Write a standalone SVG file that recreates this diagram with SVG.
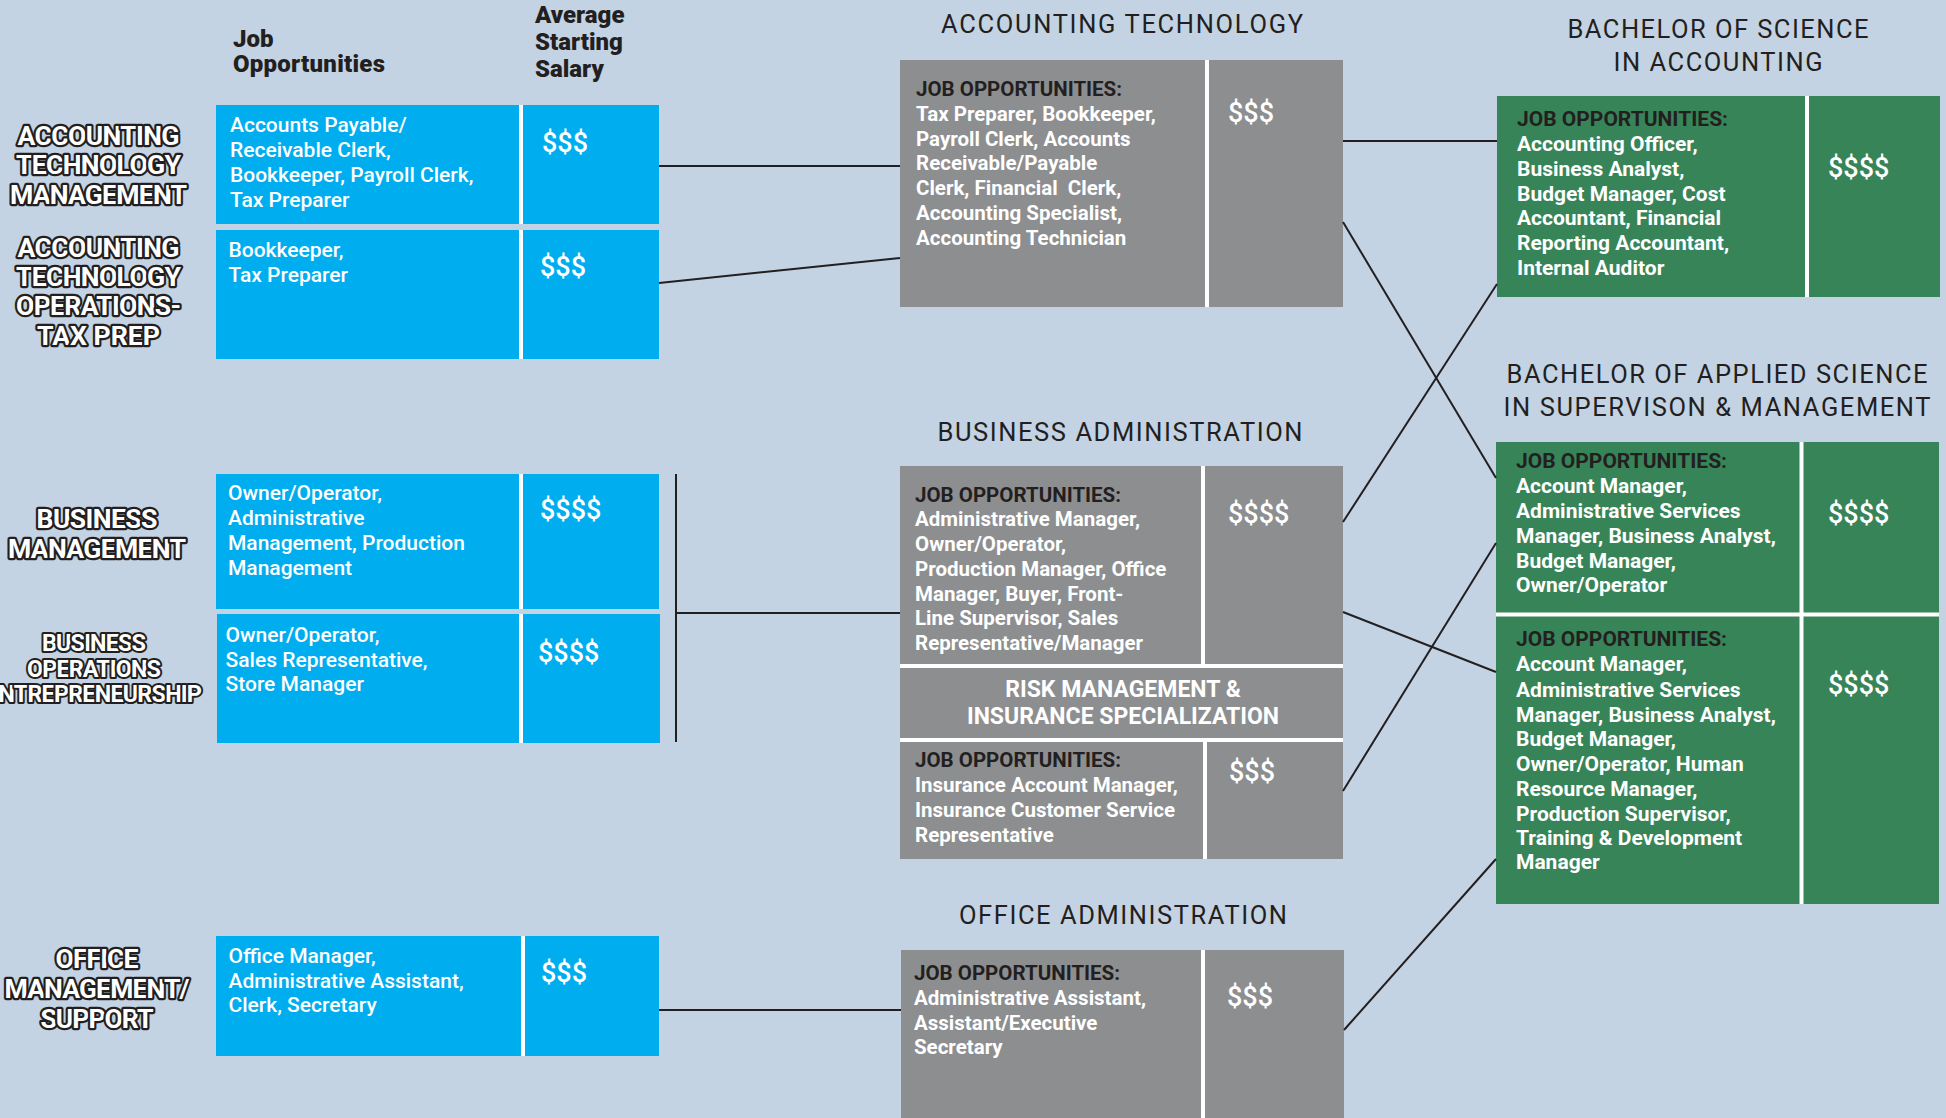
<svg xmlns="http://www.w3.org/2000/svg" width="1946" height="1118" viewBox="0 0 1946 1118">
<style>
.bg{fill:#c3d3e3}
.blue{fill:#00aeef}
.gray{fill:#8d8e90}
.green{fill:#388459}
.div{stroke:#ffffff;stroke-width:4;fill:none}
.lbl{font-family:Roboto,"Liberation Sans",sans-serif;font-weight:700;font-size:26.7px;fill:#ffffff;stroke:#231f20;stroke-width:4.5;paint-order:stroke;stroke-linejoin:round;text-anchor:middle}
.lbl.sm{font-size:23.5px;stroke-width:4}
.hdr{font-family:Roboto,"Liberation Sans",sans-serif;font-weight:900;font-size:24px;fill:#231f20}
.bt{font-family:Roboto,"Liberation Sans",sans-serif;font-weight:500;font-size:21px;fill:#ffffff}
.money{font-family:Roboto,"Liberation Sans",sans-serif;font-weight:500;font-size:27px;fill:#ffffff}
.ttl{font-family:Roboto,"Liberation Sans",sans-serif;font-weight:400;font-size:25.5px;fill:#231f20;text-anchor:middle}
.jo{font-family:Roboto,"Liberation Sans",sans-serif;font-weight:700;font-size:20.5px;fill:#231f20}
.gt{font-family:Roboto,"Liberation Sans",sans-serif;font-weight:700;font-size:20.5px;fill:#ffffff}
.gt21{font-size:21px}
.risk{font-family:Roboto,"Liberation Sans",sans-serif;font-weight:700;font-size:23px;fill:#ffffff;text-anchor:middle}
.conn{stroke:#231f20;stroke-width:2;fill:none}
</style>
<rect class="bg" x="0" y="0" width="1946" height="1118"/>

<g id="headers">
<text class="hdr" x="233" y="47">Job</text>
<text class="hdr" x="233" y="72" textLength="152">Opportunities</text>
<text class="hdr" x="535" y="23">Average</text>
<text class="hdr" x="535" y="50">Starting</text>
<text class="hdr" x="535" y="77">Salary</text>
</g>

<g id="label-atm">
<text class="lbl" x="98.5" y="145" textLength="162">ACCOUNTING</text>
<text class="lbl" x="98.5" y="174" textLength="165">TECHNOLOGY</text>
<text class="lbl" x="98.5" y="204" textLength="177">MANAGEMENT</text>
</g>
<g id="label-atotp">
<text class="lbl" x="98.5" y="257" textLength="162">ACCOUNTING</text>
<text class="lbl" x="98.5" y="286" textLength="165">TECHNOLOGY</text>
<text class="lbl" x="98.5" y="315" textLength="165">OPERATIONS-</text>
<text class="lbl" x="98.5" y="345" textLength="123">TAX PREP</text>
</g>
<g id="label-bm">
<text class="lbl" x="97" y="528" textLength="121">BUSINESS</text>
<text class="lbl" x="97" y="558" textLength="178">MANAGEMENT</text>
</g>
<g id="label-boe">
<text class="lbl sm" x="94" y="651" textLength="104">BUSINESS</text>
<text class="lbl sm" x="94" y="677" textLength="134">OPERATIONS</text>
<text class="lbl sm" x="94" y="702" textLength="216">ENTREPRENEURSHIP</text>
</g>
<g id="label-oms">
<text class="lbl" x="97" y="968" textLength="83">OFFICE</text>
<text class="lbl" x="97" y="998" textLength="185">MANAGEMENT/</text>
<text class="lbl" x="97" y="1028" textLength="113">SUPPORT</text>
</g>

<g id="blue-atm">
<rect class="blue" x="216" y="105" width="443" height="119"/>
<line class="div" x1="521" y1="105" x2="521" y2="224"/>
<text class="bt" x="230" y="132">Accounts Payable/</text>
<text class="bt" x="230" y="157">Receivable Clerk,</text>
<text class="bt" x="230" y="182">Bookkeeper, Payroll Clerk,</text>
<text class="bt" x="230" y="207">Tax Preparer</text>
<text class="money" x="542" y="152">$$$</text>
</g>
<g id="blue-atotp">
<rect class="blue" x="216" y="230" width="443" height="129"/>
<line class="div" x1="521" y1="230" x2="521" y2="359"/>
<text class="bt" x="228.5" y="257">Bookkeeper,</text>
<text class="bt" x="228.5" y="282">Tax Preparer</text>
<text class="money" x="540" y="276">$$$</text>
</g>
<g id="blue-bm">
<rect class="blue" x="216" y="474" width="443" height="135"/>
<line class="div" x1="521" y1="474" x2="521" y2="609"/>
<text class="bt" x="228" y="500">Owner/Operator,</text>
<text class="bt" x="228" y="525">Administrative</text>
<text class="bt" x="228" y="550">Management, Production</text>
<text class="bt" x="228" y="575">Management</text>
<text class="money" x="540" y="519">$$$$</text>
</g>
<g id="blue-boe">
<rect class="blue" x="217" y="614" width="443" height="129"/>
<line class="div" x1="521" y1="614" x2="521" y2="743"/>
<text class="bt" x="225.5" y="642">Owner/Operator,</text>
<text class="bt" x="225.5" y="667">Sales Representative,</text>
<text class="bt" x="225.5" y="691">Store Manager</text>
<text class="money" x="538" y="662">$$$$</text>
</g>
<g id="blue-oms">
<rect class="blue" x="216" y="936" width="443" height="120"/>
<line class="div" x1="523" y1="936" x2="523" y2="1056"/>
<text class="bt" x="228.5" y="963">Office Manager,</text>
<text class="bt" x="228.5" y="988">Administrative Assistant,</text>
<text class="bt" x="228.5" y="1012">Clerk, Secretary</text>
<text class="money" x="541" y="982">$$$</text>
</g>

<g id="gray-at">
<text class="ttl" x="1122" y="33" textLength="362">ACCOUNTING TECHNOLOGY</text>
<rect class="gray" x="900" y="60" width="443" height="247"/>
<line class="div" x1="1207" y1="60" x2="1207" y2="307"/>
<text class="jo" x="916" y="96">JOB OPPORTUNITIES:</text>
<text class="gt" x="916" y="121">Tax Preparer, Bookkeeper,</text>
<text class="gt" x="916" y="146">Payroll Clerk, Accounts</text>
<text class="gt" x="916" y="170">Receivable/Payable</text>
<text class="gt" x="916" y="195" xml:space="preserve">Clerk, Financial  Clerk,</text>
<text class="gt" x="916" y="220">Accounting Specialist,</text>
<text class="gt" x="916" y="245">Accounting Technician</text>
<text class="money" x="1228" y="122">$$$</text>
</g>

<g id="gray-ba">
<text class="ttl" x="1120" y="441" textLength="365">BUSINESS ADMINISTRATION</text>
<rect class="gray" x="900" y="466" width="443" height="393"/>
<line class="div" x1="1203" y1="466" x2="1203" y2="664"/>
<line class="div" x1="900" y1="666" x2="1343" y2="666"/>
<line class="div" x1="900" y1="740" x2="1343" y2="740"/>
<line class="div" x1="1205" y1="742" x2="1205" y2="859"/>
<text class="jo" x="915" y="502">JOB OPPORTUNITIES:</text>
<text class="gt" x="915" y="526">Administrative Manager,</text>
<text class="gt" x="915" y="551">Owner/Operator,</text>
<text class="gt" x="915" y="576">Production Manager, Office</text>
<text class="gt" x="915" y="601">Manager, Buyer, Front-</text>
<text class="gt" x="915" y="625">Line Supervisor, Sales</text>
<text class="gt" x="915" y="650">Representative/Manager</text>
<text class="money" x="1228" y="523">$$$$</text>
<text class="risk" x="1123" y="697">RISK MANAGEMENT &amp;</text>
<text class="risk" x="1123" y="724">INSURANCE SPECIALIZATION</text>
<text class="jo" x="915" y="767">JOB OPPORTUNITIES:</text>
<text class="gt" x="915" y="792">Insurance Account Manager,</text>
<text class="gt" x="915" y="817">Insurance Customer Service</text>
<text class="gt" x="915" y="842">Representative</text>
<text class="money" x="1229" y="781">$$$</text>
</g>

<g id="gray-oa">
<text class="ttl" x="1123" y="924" textLength="328">OFFICE ADMINISTRATION</text>
<rect class="gray" x="901" y="950" width="443" height="168"/>
<line class="div" x1="1203" y1="950" x2="1203" y2="1118"/>
<text class="jo" x="914" y="980">JOB OPPORTUNITIES:</text>
<text class="gt" x="914" y="1005">Administrative Assistant,</text>
<text class="gt" x="914" y="1030">Assistant/Executive</text>
<text class="gt" x="914" y="1054">Secretary</text>
<text class="money" x="1227" y="1006">$$$</text>
</g>

<g id="green-bsa">
<text class="ttl" x="1718" y="38" textLength="301">BACHELOR OF SCIENCE</text>
<text class="ttl" x="1718" y="71" textLength="209">IN ACCOUNTING</text>
<rect class="green" x="1497" y="96" width="443" height="201"/>
<line class="div" x1="1807" y1="96" x2="1807" y2="297"/>
<text class="jo gt21" x="1517" y="126">JOB OPPORTUNITIES:</text>
<text class="gt gt21" x="1517" y="151">Accounting Officer,</text>
<text class="gt gt21" x="1517" y="176">Business Analyst,</text>
<text class="gt gt21" x="1517" y="201">Budget Manager, Cost</text>
<text class="gt gt21" x="1517" y="225">Accountant, Financial</text>
<text class="gt gt21" x="1517" y="250">Reporting Accountant,</text>
<text class="gt gt21" x="1517" y="275">Internal Auditor</text>
<text class="money" x="1828" y="177">$$$$</text>
</g>

<g id="green-bas">
<text class="ttl" x="1717" y="383" textLength="421">BACHELOR OF APPLIED SCIENCE</text>
<text class="ttl" x="1717" y="416" textLength="427">IN SUPERVISON &amp; MANAGEMENT</text>
<rect class="green" x="1496" y="442" width="443" height="462"/>
<line class="div" x1="1801.5" y1="442" x2="1801.5" y2="904"/>
<line class="div" x1="1496" y1="614.5" x2="1939" y2="614.5"/>
<text class="jo gt21" x="1516" y="468">JOB OPPORTUNITIES:</text>
<text class="gt gt21" x="1516" y="493">Account Manager,</text>
<text class="gt gt21" x="1516" y="518">Administrative Services</text>
<text class="gt gt21" x="1516" y="543">Manager, Business Analyst,</text>
<text class="gt gt21" x="1516" y="568">Budget Manager,</text>
<text class="gt gt21" x="1516" y="592">Owner/Operator</text>
<text class="money" x="1828" y="523">$$$$</text>
<text class="jo gt21" x="1516" y="646">JOB OPPORTUNITIES:</text>
<text class="gt gt21" x="1516" y="671">Account Manager,</text>
<text class="gt gt21" x="1516" y="697">Administrative Services</text>
<text class="gt gt21" x="1516" y="722">Manager, Business Analyst,</text>
<text class="gt gt21" x="1516" y="746">Budget Manager,</text>
<text class="gt gt21" x="1516" y="771">Owner/Operator, Human</text>
<text class="gt gt21" x="1516" y="796">Resource Manager,</text>
<text class="gt gt21" x="1516" y="821">Production Supervisor,</text>
<text class="gt gt21" x="1516" y="845">Training &amp; Development</text>
<text class="gt gt21" x="1516" y="869">Manager</text>
<text class="money" x="1828" y="694">$$$$</text>
</g>

<g id="connectors">
<line class="conn" x1="659" y1="166" x2="900" y2="166"/>
<line class="conn" x1="659" y1="283" x2="900" y2="258"/>
<line class="conn" x1="676" y1="474" x2="676" y2="742"/>
<line class="conn" x1="676" y1="613" x2="900" y2="613"/>
<line class="conn" x1="659" y1="1010" x2="901" y2="1010"/>
<line class="conn" x1="1343" y1="141" x2="1497" y2="141"/>
<line class="conn" x1="1343" y1="222" x2="1496" y2="478"/>
<line class="conn" x1="1343" y1="522" x2="1497" y2="284"/>
<line class="conn" x1="1343" y1="612" x2="1496" y2="672"/>
<line class="conn" x1="1343" y1="791" x2="1496" y2="543"/>
<line class="conn" x1="1344" y1="1030" x2="1496" y2="859"/>
</g>
</svg>
